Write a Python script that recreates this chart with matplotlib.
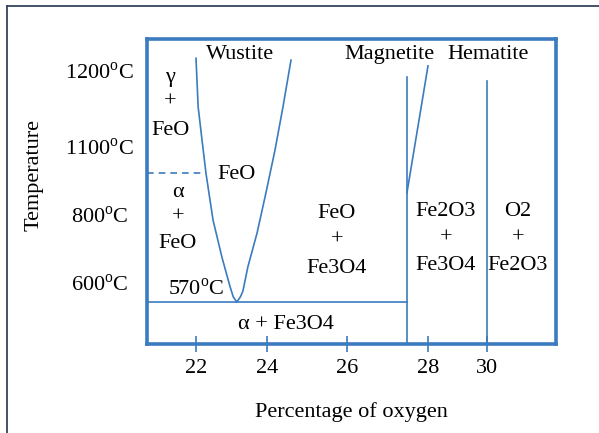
import numpy as np
import matplotlib
matplotlib.use("Agg")
import matplotlib.pyplot as plt
from matplotlib.lines import Line2D

plt.rcParams['font.family'] = ['Liberation Serif', 'DejaVu Serif']
plt.rcParams['mathtext.fontset'] = 'custom'
plt.rcParams['mathtext.rm'] = 'Liberation Serif'

# ---- data (percent oxygen, temperature in °C) ----
x_ticks = [22, 24, 26, 28, 30]
y_ticks = [600, 800, 1100, 1200]
y_tick_labels = ['600$^{\\rm o}$C', '800$^{\\rm o}$C', '1100$^{\\rm o}$C', '1200$^{\\rm o}$C']

wustite_left_x = [22.0, 22.03, 22.06, 22.17, 22.28, 22.48, 22.73, 22.96, 23.05, 23.15]
wustite_left_t = [1220, 1185, 1153, 1109, 912, 785, 676, 594, 578, 570]
wustite_right_x = [23.15, 23.25, 23.32, 23.46, 23.72, 23.97, 24.2, 24.4, 24.6]
wustite_right_t = [570, 578, 587, 647, 747, 859, 1078, 1153, 1217]

magnetite_x = 27.48
magnetite_top = 1192
magnetite_slant_x = [27.48, 28.0]
magnetite_slant_t = [859, 1208]
hematite_x = 30.0
hematite_top = 1187
eutectoid_t = 570
alpha_gamma_t = 912
alpha_gamma_end = 22.28

# schematic (non-uniform) axis anchors
XV = [20.62, 22, 24, 26, 28, 30, 32.34]
XP = [147, 196, 267, 347, 428, 487, 556]
TV = [500, 570, 600, 800, 912, 1100, 1200, 1250]
TP = [-344, -302, -283, -215, -173, -147, -71, -39]

BLUE = '#3b7bbf'
FS = 16

fig = plt.figure(figsize=(5.99, 4.33), dpi=100)
ax = fig.add_axes([147/599, 1-344/433, 409/599, 305/433])

ax.set_xscale('function', functions=(lambda x: np.interp(x, XV, XP), lambda p: np.interp(p, XP, XV)))
ax.set_yscale('function', functions=(lambda t: np.interp(t, TV, TP), lambda p: np.interp(p, TP, TV)))
ax.set_xlim(XV[0], XV[-1])
ax.set_ylim(TV[0], TV[-1])

lw = 1.2
ax.plot(wustite_left_x, wustite_left_t, color=BLUE, lw=lw)
ax.plot(wustite_right_x, wustite_right_t, color=BLUE, lw=lw)
ax.plot([magnetite_x, magnetite_x], [TV[0], magnetite_top], color=BLUE, lw=lw)
ax.plot(magnetite_slant_x, magnetite_slant_t, color=BLUE, lw=lw)
ax.plot([hematite_x, hematite_x], [TV[0], hematite_top], color=BLUE, lw=lw)
ax.plot([XV[0], magnetite_x], [eutectoid_t, eutectoid_t], color=BLUE, lw=lw)
ax.plot([XV[0], alpha_gamma_end], [alpha_gamma_t, alpha_gamma_t], color=BLUE, lw=lw,
        linestyle=(0, (4, 3)))

for s in ax.spines.values():
    s.set_color(BLUE)
    s.set_linewidth(2.6)

ax.set_xticks(x_ticks)
ax.set_xticklabels([str(v) for v in x_ticks])
ax.tick_params(axis='x', direction='inout', length=12, width=1.2, color=BLUE,
               labelsize=FS, pad=5)
ax.set_yticks(y_ticks)
ax.set_yticklabels(y_tick_labels)
ax.tick_params(axis='y', length=0, labelsize=FS, pad=34)
for lab in ax.get_yticklabels():
    lab.set_horizontalalignment('center')
ax.minorticks_off()

ax.set_xlabel('Percentage of oxygen', fontsize=FS, labelpad=17)
ax.set_ylabel('Temperature', fontsize=FS)
ax.yaxis.set_label_coords(-0.252, 0.554)

texts = [
    (23.24, 1226, 'Wustite'), (27.06, 1226, 'Magnetite'), (30.03, 1226, 'Hematite'),
    (21.27, 1192, 'γ'), (21.27, 1159, '+'), (21.27, 1122, 'FeO'),
    (23.13, 909, 'FeO'),
    (21.49, 861, 'α'), (21.49, 794, '+'), (21.49, 715, 'FeO'),
    (22.0, 590.5, '570$^{\\rm o}$C'),
    (25.75, 805, 'FeO'), (25.75, 726, '+'), (25.75, 644, 'Fe3O4'),
    (28.61, 808, 'Fe2O3'), (28.61, 732, '+'), (28.61, 650, 'Fe3O4'),
    (31.05, 808, 'O2'), (31.05, 732, '+'), (31.05, 650, 'Fe2O3'),
    (24.48, 533, 'α + Fe3O4'),
]
for x, y, s in texts:
    ax.text(x, y, s, ha='center', va='center', fontsize=FS)

# outer figure frame (top and left edges)
fig.add_artist(Line2D([6.5/599, 6.5/599], [0, 1-5.5/433], transform=fig.transFigure,
                      color='#34435e', lw=1.3))
fig.add_artist(Line2D([6.5/599, 1], [1-5.5/433, 1-5.5/433], transform=fig.transFigure,
                      color='#34435e', lw=1.3))

fig.savefig('out.png', dpi=100)
